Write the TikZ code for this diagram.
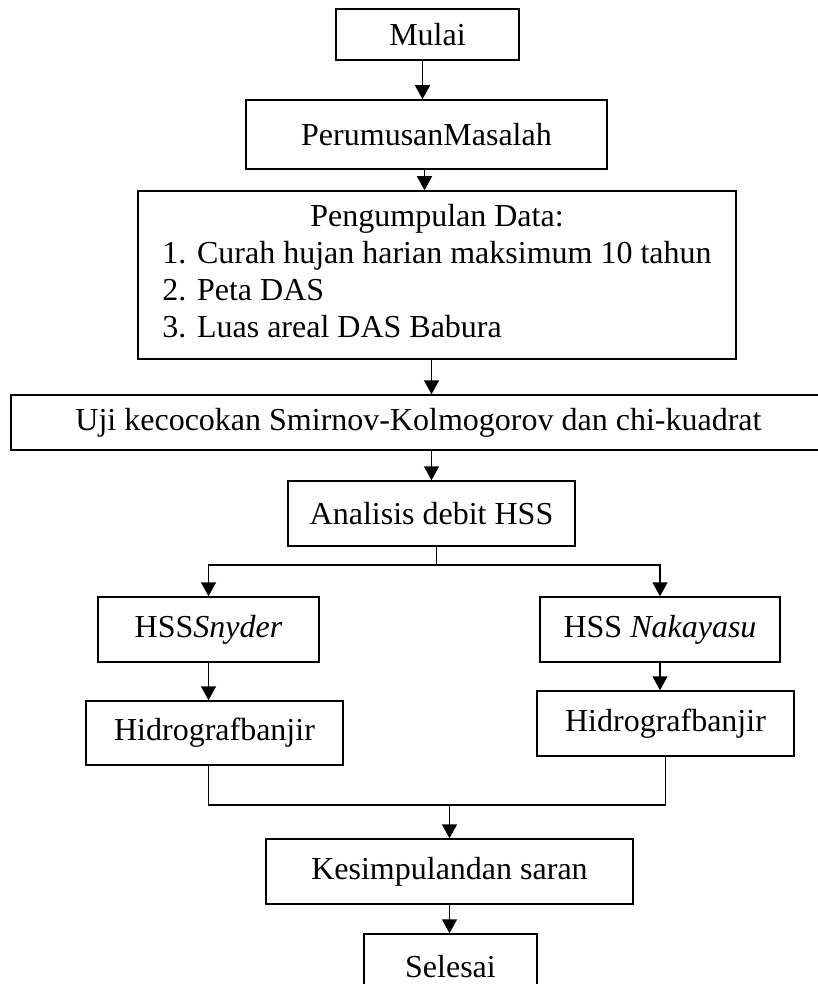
\documentclass[tikz,border=0pt]{standalone}
\usepackage{fontspec}
\setmainfont{Liberation Serif}
\usetikzlibrary{arrows.meta}
\tikzset{
  box/.style={draw, line width=1.5pt, inner sep=0pt, font=\fontsize{32}{37}\selectfont},
  arr/.style={-{Triangle[length=14pt,width=15pt]}, line width=1.5pt},
  link/.style={line width=1.5pt},
}
\begin{document}
\begin{tikzpicture}[x=1pt,y=-1pt]
\useasboundingbox (0,0) rectangle (818,984);
% boxes
\node[box, minimum width=183pt, minimum height=51pt] (mulai) at (427.5,34.5) {Mulai};
\node[box, minimum width=361pt, minimum height=69pt] (rumus) at (426.5,134.5) {PerumusanMasalah};
\node[box, minimum width=598pt, minimum height=168pt] (data) at (437,275)
  {\begin{tabular}{@{}l@{}}\multicolumn{1}{@{}c@{}}{Pengumpulan Data:}\\
   1. Curah hujan harian maksimum 10 tahun\\
   2. Peta DAS\\
   3. Luas areal DAS Babura\end{tabular}};
\node[box, minimum width=815pt, minimum height=55pt] (uji) at (418.5,422.5) {Uji kecocokan Smirnov-Kolmogorov dan chi-kuadrat};
\node[box, minimum width=287pt, minimum height=65pt] (analisis) at (431.5,513.5) {Analisis debit HSS};
\node[box, minimum width=221pt, minimum height=65pt] (snyder) at (208.5,629.5) {HSS\textit{Snyder}};
\node[box, minimum width=240pt, minimum height=65pt] (nakayasu) at (660,629.5) {HSS \textit{Nakayasu}};
\node[box, minimum width=257pt, minimum height=64pt] (hidroL) at (214.5,733) {Hidrografbanjir};
\node[box, minimum width=257pt, minimum height=65pt] (hidroR) at (665.5,723.5) {Hidrografbanjir};
\node[box, minimum width=367pt, minimum height=65pt] (simpul) at (449.5,871.5) {Kesimpulandan saran};
\node[box, minimum width=173pt, minimum height=65pt] (selesai) at (450.5,966.5) {Selesai};
\coordinate (fork) at (431.5,565);
\coordinate (join) at (449.5,805);
% connectors
\draw[arr] ([xshift=-5pt]mulai.south) -- ([xshift=-5pt]mulai.south |- rumus.north);
\draw[arr] ([xshift=-2pt]rumus.south) -- ([xshift=-2pt]rumus.south |- data.north);
\draw[arr] (data.south -| analisis.north) -- (uji.north -| analisis.north);
\draw[arr] (uji.south -| analisis.north) -- (analisis.north);
\draw[link] ([xshift=5pt]analisis.south) -- ([xshift=5pt]fork);
\draw[arr] ([xshift=5pt]fork) -| (snyder.north);
\draw[arr] ([xshift=5pt]fork) -| (nakayasu.north);
\draw[arr] (snyder.south) -- (hidroL.north -| snyder.south);
\draw[arr] (nakayasu.south) -- (hidroR.north -| nakayasu.south);
\draw[link] (hidroL.south -| snyder.south) |- (join) -| (hidroR.south);
\draw[arr] (join) -- (simpul.north);
\draw[arr] (simpul.south) -- (simpul.south |- selesai.north);
\end{tikzpicture}
\end{document}
